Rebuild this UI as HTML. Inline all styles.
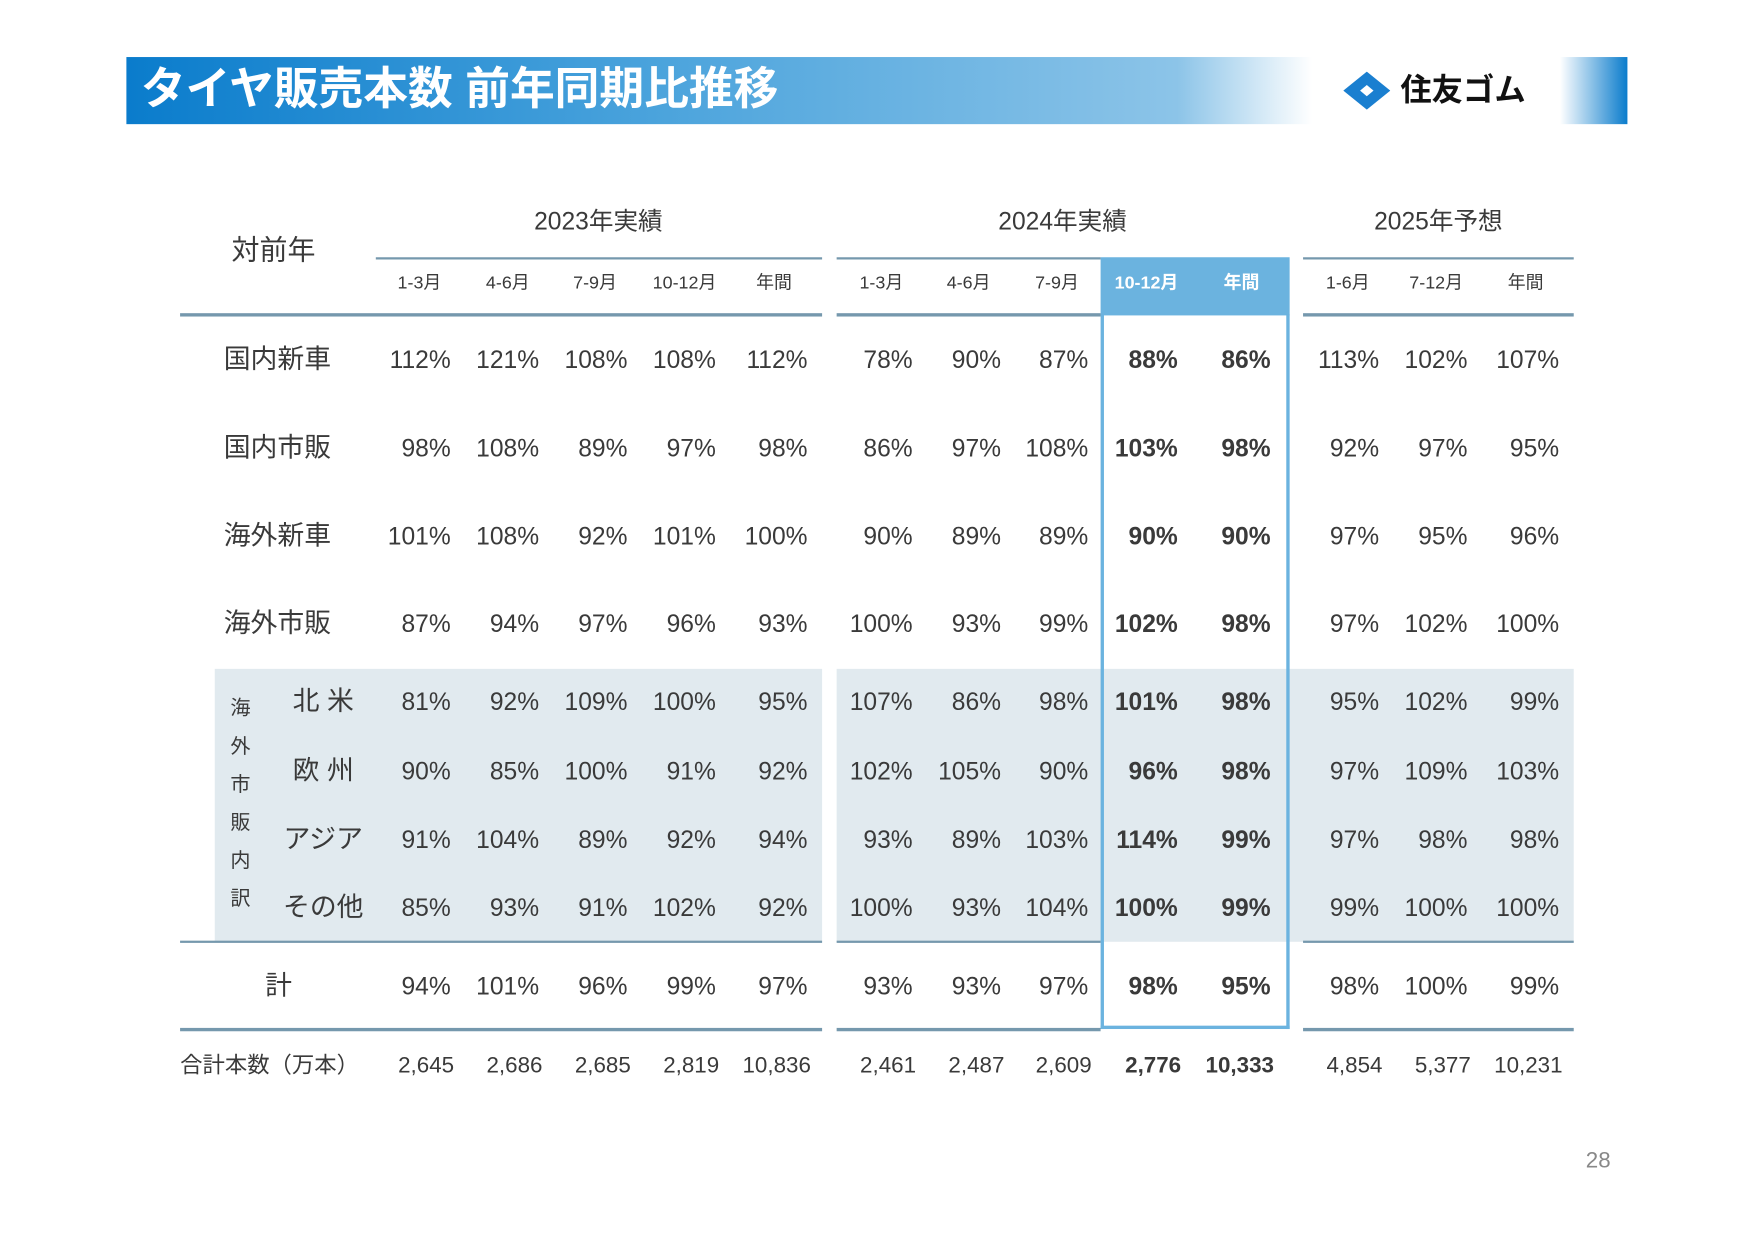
<!DOCTYPE html>
<html><head><meta charset="utf-8">
<style>
html,body{margin:0;padding:0;background:#fff;width:1754px;height:1241px;overflow:hidden}
#stage{position:absolute;left:0;top:0;width:1570px;height:1110px;transform:scale(1.1185);transform-origin:0 0;font-family:"Liberation Sans","Noto Sans CJK JP",sans-serif;color:#3a3a3a}
.a{position:absolute;white-space:nowrap}
.t{position:absolute;white-space:nowrap;height:30px;line-height:30px}
.ln{position:absolute;background:#7598ad}
</style></head><body>
<div id="stage">
  <div class="a" style="left:113px;top:51px;width:1342px;height:60px;background:linear-gradient(90deg,#0a7ccc 0%,#4aa3dc 35%,#8cc4e8 70%,#ffffff 79%,#ffffff 95.5%,#0a7ccc 100%)"></div>
  <div class="a" style="left:126px;top:55px;font-size:40px;font-weight:bold;color:#fff;line-height:50px">タイヤ販売本数 前年同期比推移</div>
  <svg class="a" style="left:1201px;top:64px" width="42" height="34" viewBox="0 0 42 34"><polygon points="21,0 42,17 21,34 0,17" fill="#1a7fd0"/><polygon points="21,12 27,17 21,22 15,17" fill="#fff"/></svg>
  <div class="a" style="left:1252px;top:61px;font-size:28px;font-weight:bold;color:#111;line-height:40px">住友ゴム</div>

  <div class="t" style="left:207px;top:209px;font-size:25px">対前年</div>
  <div class="t" style="left:385px;width:300px;text-align:center;top:183px;font-size:22px">2023年実績</div>
  <div class="t" style="left:800px;width:300px;text-align:center;top:183px;font-size:22px">2024年実績</div>
  <div class="t" style="left:1136px;width:300px;text-align:center;top:183px;font-size:22px">2025年予想</div>

  <div class="a" style="left:192px;top:598px;width:543px;height:244px;background:#e1eaef"></div>
  <div class="a" style="left:748px;top:598px;width:659px;height:244px;background:#e1eaef"></div>
  <div class="a" style="left:984px;top:230px;width:169px;height:52px;background:#6bb3df"></div>
  <div class="a" style="left:984px;top:281px;width:163px;height:636px;border:3px solid #6bb3df;border-top:none"></div>

  <div class="ln" style="left:336px;top:230px;width:399px;height:2px"></div>
  <div class="ln" style="left:748px;top:230px;width:236px;height:2px"></div>
  <div class="ln" style="left:1165px;top:230px;width:242px;height:2px"></div>
  <div class="ln" style="left:161px;top:280px;width:574px;height:3px"></div>
  <div class="ln" style="left:748px;top:280px;width:236px;height:3px"></div>
  <div class="ln" style="left:1165px;top:280px;width:242px;height:3px"></div>
  <div class="ln" style="left:161px;top:841px;width:574px;height:2px"></div>
  <div class="ln" style="left:748px;top:841px;width:236px;height:2px"></div>
  <div class="ln" style="left:1165px;top:841px;width:242px;height:2px"></div>
  <div class="ln" style="left:161px;top:919px;width:574px;height:3px"></div>
  <div class="ln" style="left:748px;top:919px;width:236px;height:3px"></div>
  <div class="ln" style="left:1165px;top:919px;width:242px;height:3px"></div>

  <div class="a" style="left:204px;top:616px;width:22px;font-size:18px;line-height:34px;white-space:normal;text-align:center">海外市販内訳</div>
  <div class="t" style="left:1380px;width:60px;text-align:right;top:1023px;font-size:20px;color:#888">28</div>
  <div id="cells"></div>
</div>
<script>
const subHeaders = ["1-3月","4-6月","7-9月","10-12月","年間","1-3月","4-6月","7-9月","10-12月","年間","1-6月","7-12月","年間"];
const rowLabels = ["国内新車","国内市販","海外新車","海外市販","北 米","欧 州","アジア","その他","計"];
const r0 = ["112%","121%","108%","108%","112%","78%","90%","87%","88%","86%","113%","102%","107%"];
const r1 = ["98%","108%","89%","97%","98%","86%","97%","108%","103%","98%","92%","97%","95%"];
const r2 = ["101%","108%","92%","101%","100%","90%","89%","89%","90%","90%","97%","95%","96%"];
const r3 = ["87%","94%","97%","96%","93%","100%","93%","99%","102%","98%","97%","102%","100%"];
const r4 = ["81%","92%","109%","100%","95%","107%","86%","98%","101%","98%","95%","102%","99%"];
const r5 = ["90%","85%","100%","91%","92%","102%","105%","90%","96%","98%","97%","109%","103%"];
const r6 = ["91%","104%","89%","92%","94%","93%","89%","103%","114%","99%","97%","98%","98%"];
const r7 = ["85%","93%","91%","102%","92%","100%","93%","104%","100%","99%","99%","100%","100%"];
const r8 = ["94%","101%","96%","99%","97%","93%","93%","97%","98%","95%","98%","100%","99%"];
const totals = ["2,645","2,686","2,685","2,819","10,836","2,461","2,487","2,609","2,776","10,333","4,854","5,377","10,231"];
const rows = [r0,r1,r2,r3,r4,r5,r6,r7,r8];

const colCenters=[375,454,532,612,692,788,866,945,1025,1110,1205,1284,1364];
const colRight=[403,482,561,640,722,816,895,973,1053,1136,1233,1312,1394];
const rowY=[322,401,480,558,628,690,751,812,882];
const host=document.getElementById('cells');
function mk(txt,left,width,align,cy,size,extra){
  const d=document.createElement('div');
  d.className='t';d.textContent=txt;
  d.style.left=left+'px';d.style.width=width+'px';d.style.textAlign=align;
  d.style.top=(cy-15)+'px';d.style.fontSize=size+'px';
  if(extra)Object.assign(d.style,extra);
  host.appendChild(d);return d;
}
subHeaders.forEach((h,i)=>{
  const hl=(i===8||i===9);
  const d=mk(h,colCenters[i]-45,90,'center',254,16,hl?{color:'#fff',fontWeight:'bold'}:null);
  
  
});
rowLabels.forEach((l,r)=>{
  let d;
  if(r<4) d=mk(l,200,120,'left',rowY[r],24);
  else if(r<8) d=mk(l,239,100,'center',rowY[r],24);
  else d=mk(l,199,100,'center',rowY[r],24);
  
  
});
rows.forEach((row,r)=>{
  row.forEach((v,i)=>{
    const hl=(i===8||i===9);
    const d=mk(v,colRight[i]-100,100,'right',rowY[r],22,hl?{fontWeight:'bold'}:null);
    
    
  });
});
const tl=mk('合計本数（万本）',161,200,'left',953,20);


totals.forEach((v,i)=>{
  const hl=(i===8||i===9);
  const d=mk(v,colRight[i]+3-100,100,'right',953,20,hl?{fontWeight:'bold'}:null);
  
  
});
</script>
</body></html>
